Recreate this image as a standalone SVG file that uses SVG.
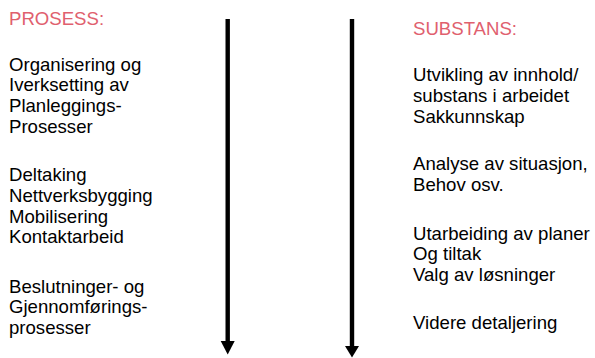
<svg xmlns="http://www.w3.org/2000/svg" width="595" height="358" viewBox="0 0 595 358">
  <style>
    text { font-family: "Liberation Sans", Arial, sans-serif; font-size: 18.6px; fill: #000; }
    .head { fill: #E0606E; }
    .shaft { stroke: #000; stroke-width: 4.4; fill: none; }
    .tip { fill: #000; }
  </style>
  <rect width="595" height="358" fill="#fff"/>
  <g id="prosess">
    <text class="head" x="9" y="24.5">PROSESS:</text>
    <text x="9" y="70.5">Organisering og</text>
    <text x="9" y="91.3">Iverksetting av</text>
    <text x="9" y="112.1">Planleggings-</text>
    <text x="9" y="132.9">Prosesser</text>
    <text x="9" y="181">Deltaking</text>
    <text x="9" y="201.8">Nettverksbygging</text>
    <text x="9" y="222.6">Mobilisering</text>
    <text x="9" y="243.4">Kontaktarbeid</text>
    <text x="9" y="292.5">Beslutninger- og</text>
    <text x="9" y="313.3">Gjennomførings-</text>
    <text x="9" y="334">prosesser</text>
  </g>
  <g id="substans">
    <text class="head" x="413" y="35">SUBSTANS:</text>
    <text x="413" y="81">Utvikling av innhold/</text>
    <text x="413" y="101.8">substans i arbeidet</text>
    <text x="413" y="122.6">Sakkunnskap</text>
    <text x="413" y="170">Analyse av situasjon,</text>
    <text x="413" y="190.8">Behov osv.</text>
    <text x="413" y="239.5">Utarbeiding av planer</text>
    <text x="413" y="260.3">Og tiltak</text>
    <text x="413" y="281.1">Valg av løsninger</text>
    <text x="413" y="328.5">Videre detaljering</text>
  </g>
  <g id="connectors">
    <line class="shaft" x1="227.7" y1="19" x2="227.7" y2="342"/>
    <polygon class="tip" points="220.7,341 234.7,341 227.7,354.5"/>
    <line class="shaft" x1="352" y1="19" x2="352" y2="347"/>
    <polygon class="tip" points="345,346 359,346 352,357.5"/>
  </g>
</svg>
